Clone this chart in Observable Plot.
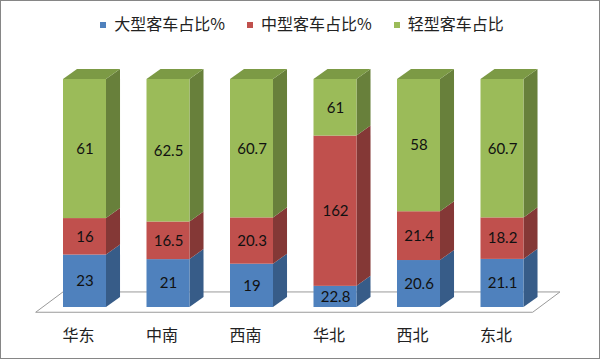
<!DOCTYPE html>
<html>
<head>
<meta charset="utf-8">
<script src="https://cdn.jsdelivr.net/npm/d3@7"></script>
<script src="https://cdn.jsdelivr.net/npm/@observablehq/plot@0.6"></script>
<style>
  html, body { margin: 0; padding: 0; background: #fff; }
  #wrap { position: relative; width: 600px; height: 359px; overflow: hidden; background: #fff; }
  #frame { position: absolute; left: 0; top: 0; width: 600px; height: 359px; box-sizing: border-box; border: 1px solid #868686; pointer-events: none; }
  #chart { position: absolute; left: 0; top: 0; }
  #legend { position: absolute; left: 0; top: 13px; width: 600px; display: flex; justify-content: center; gap: 22px; padding-left: 4px; box-sizing: border-box;
            font-family: "Noto Sans CJK SC", sans-serif; font-size: 16px; color: #222; line-height: 20px; }
  .item { display: flex; align-items: center; }
  .sw { width: 6px; height: 6px; margin-right: 8px; margin-top: 3px; }
</style>
</head>
<body>
<div id="wrap">
  <div id="chart"></div>
  <div id="legend"></div>
  <div id="frame"></div>
</div>
<script>
const categories = ["华东", "中南", "西南", "华北", "西北", "东北"];
const seriesNames = ["大型客车占比%", "中型客车占比%", "轻型客车占比"];
const large  = [23, 21, 19, 22.8, 20.6, 21.1];
const medium = [16, 16.5, 20.3, 162, 21.4, 18.2];
const light  = [61, 62.5, 60.7, 61, 58, 60.7];

const frontColors = ["#4F81BD", "#C0504D", "#9BBB59"];
const sideColors  = ["#375C88", "#843836", "#68803B"];
const topColors   = ["#43709F", "#A4413E", "#7C9A45"];

// geometry in scale units
const hw = 0.2575;      // half width of front face (x units)
const ddx = 0.168;      // depth offset x
const ddy = 0.044;      // depth offset y (normalized units)

const seriesVals = [large, medium, light];
const segments = [];
categories.forEach((c, i) => {
  const total = large[i] + medium[i] + light[i];
  let acc = 0;
  seriesVals.forEach((arr, s) => {
    const y1 = acc / total;
    acc += arr[i];
    const y2 = acc / total;
    segments.push({i, cat: c, s, value: arr[i], y1, y2, key: i + "-" + s,
                   front: frontColors[s], side: sideColors[s], top: topColors[s], last: s === 2});
  });
});

const sidePts = segments.flatMap(d => [
  {key: d.key, x: d.i + hw, y1: d.y1, y2: d.y2, fill: d.side},
  {key: d.key, x: d.i + hw + ddx, y1: d.y1 + ddy, y2: d.y2 + ddy, fill: d.side}
]);
const topPts = segments.filter(d => d.last).flatMap(d => [
  {key: d.key, y: d.y2, x1: d.i - hw, x2: d.i + hw, fill: d.top},
  {key: d.key, y: d.y2 + ddy, x1: d.i - hw + ddx, x2: d.i + hw + ddx, fill: d.top}
]);

// floor plane
const n = categories.length;
const fdx = 0.323, fyFront = -0.022, fyBack = 0.066;
const floorPts = [
  {y: fyFront, x1: -0.581, x2: (n - 1) + 0.371},
  {y: fyBack, x1: -0.581 + fdx, x2: (n - 1) + 0.371 + fdx}
];

const chart = Plot.plot({
  width: 600,
  height: 359,
  margin: 0,
  style: {background: "transparent", overflow: "visible"},
  x: {domain: [0, n - 1], range: [84.5, 502], axis: null},
  y: {domain: [0, 1], range: [307, 79], axis: null},
  color: {type: "identity"},
  marks: [
    Plot.areaX(floorPts, {y: "y", x1: "x1", x2: "x2", fill: "#ffffff", stroke: "#9a9a9a", strokeWidth: 1}),
    Plot.areaY(sidePts, {x: "x", y1: "y1", y2: "y2", z: "key", fill: "fill"}),
    Plot.areaX(topPts, {y: "y", x1: "x1", x2: "x2", z: "key", fill: "fill"}),
    Plot.rect(segments, {x1: d => d.i - hw, x2: d => d.i + hw, y1: "y1", y2: "y2", fill: "front"}),
    Plot.text(segments, {x: "i", y: d => (d.y1 + d.y2) / 2, text: d => String(d.value),
      fontSize: 15, fill: "#111", fontFamily: "Lato, 'Open Sans', sans-serif"}),
    Plot.text(categories, {x: (d, i) => i - 0.078, y: () => 0, dy: 28, text: d => d,
      fontSize: 16, fill: "#222", fontFamily: "'Noto Sans CJK SC', sans-serif"})
  ]
});
document.getElementById("chart").appendChild(chart);

const legend = document.getElementById("legend");
seriesNames.forEach((name, s) => {
  const it = document.createElement("div");
  it.className = "item";
  const sw = document.createElement("span");
  sw.className = "sw";
  sw.style.background = frontColors[s];
  const t = document.createElement("span");
  t.textContent = name;
  it.appendChild(sw); it.appendChild(t);
  legend.appendChild(it);
});
</script>
</body>
</html>
